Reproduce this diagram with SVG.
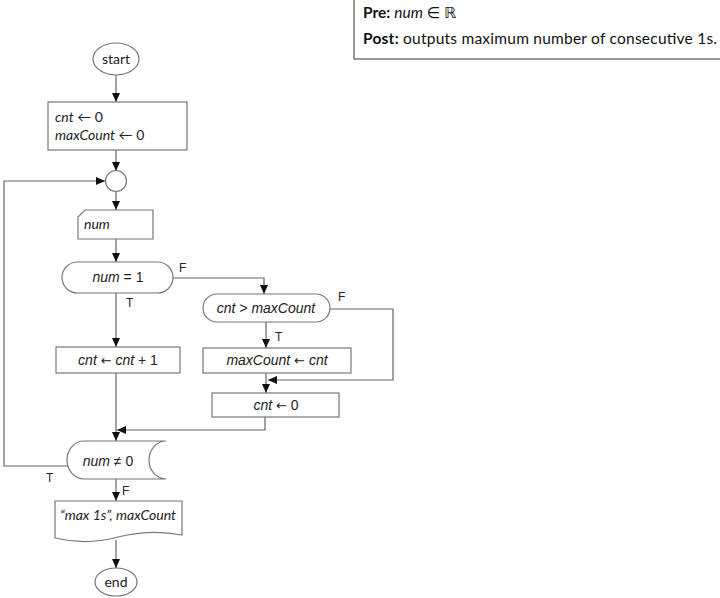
<svg xmlns="http://www.w3.org/2000/svg" width="720" height="598" viewBox="0 0 720 598">
<style>
.shape{fill:#fff;stroke:#777;stroke-width:1.2}
.conn{fill:none;stroke:#666;stroke-width:1.2}
.a{font-family:"Liberation Sans",Arial,sans-serif;font-size:14px;fill:#222}
.c{font-family:Lato,"Open Sans","DejaVu Sans",sans-serif;font-size:14px;fill:#222}
.lbl{font-family:"Liberation Sans",Arial,sans-serif;font-size:12px;fill:#222}
.i{font-style:italic}
.m{text-anchor:middle}
.arr{font-family:"DejaVu Sans",sans-serif;font-style:normal;font-size:13px}
.note{font-family:Lato,"Open Sans","DejaVu Sans",sans-serif;font-size:15.5px;fill:#111}
</style>
<defs>
<marker id="ah" markerUnits="userSpaceOnUse" markerWidth="9" markerHeight="8" refX="9" refY="4" orient="auto">
<path d="M0,0 L9,4 L0,8 z" fill="#111"/>
</marker>
</defs>

<g id="spec">
<rect x="354" y="-2" width="380" height="61" fill="#fff" stroke="#555" stroke-width="1.2"/>
<text class="note" x="363" y="18"><tspan font-weight="bold">Pre:</tspan> <tspan class="i">num</tspan> ∈ <tspan font-family="DejaVu Sans">ℝ</tspan></text>
<text class="note" x="363" y="44" textLength="354" lengthAdjust="spacing"><tspan font-weight="bold">Post:</tspan> outputs maximum number of consecutive 1s.</text>
</g>

<g id="connectors">
<path class="conn" d="M116,74 L116,102" marker-end="url(#ah)"/>
<path class="conn" d="M116,150 L116,171" marker-end="url(#ah)"/>
<path class="conn" d="M116,191 L116,210" marker-end="url(#ah)"/>
<path class="conn" d="M116,239 L116,262" marker-end="url(#ah)"/>
<path class="conn" d="M116,293 L116,347" marker-end="url(#ah)"/>
<path class="conn" d="M173,278 L264,278 L264,294" marker-end="url(#ah)"/>
<path class="conn" d="M266,322 L266,348" marker-end="url(#ah)"/>
<path class="conn" d="M330,309 L393,309 L393,380 L268,380" marker-end="url(#ah)"/>
<path class="conn" d="M266,373 L266,393" marker-end="url(#ah)"/>
<path class="conn" d="M265,417 L265,430 L117,430" marker-end="url(#ah)"/>
<path class="conn" d="M116,373 L116,441" marker-end="url(#ah)"/>
<path class="conn" d="M68,466 L4,466 L4,181 L105,181" marker-end="url(#ah)"/>
<path class="conn" d="M116,479 L116,501" marker-end="url(#ah)"/>
<path class="conn" d="M116,540 L116,568" marker-end="url(#ah)"/>
<text class="lbl" x="179" y="272">F</text>
<text class="lbl" x="338" y="301">F</text>
<text class="lbl" x="126" y="307">T</text>
<text class="lbl" x="275" y="341">T</text>
<text class="lbl" x="46" y="482">T</text>
<text class="lbl" x="122" y="495">F</text>
</g>

<g id="start">
<ellipse class="shape" cx="116" cy="59" rx="23" ry="16"/>
<text class="c m" x="116" y="64">start</text>
</g>

<g id="init">
<rect class="shape" x="48" y="102" width="139" height="48"/>
<text class="c" x="55" y="122"><tspan class="i">cnt</tspan> ← 0</text>
<text class="c" x="55" y="140"><tspan class="i">maxCount</tspan> ← 0</text>
</g>

<g id="merge">
<circle class="shape" cx="116" cy="181" r="10.5"/>
</g>

<g id="input">
<path class="shape" d="M85,210 L153,210 L153,239 L78,239 L78,217 Z"/>
<text class="c i" x="84" y="229">num</text>
</g>

<g id="dec1">
<rect class="shape" x="62" y="262" width="111" height="31" rx="15.5"/>
<text class="a m" x="118" y="282"><tspan class="i">num</tspan> = 1</text>
</g>

<g id="dec2">
<rect class="shape" x="203" y="294" width="127" height="28" rx="14"/>
<text class="a m i" x="266" y="313">cnt &gt; maxCount</text>
</g>

<g id="inc">
<rect class="shape" x="56" y="347" width="124" height="26"/>
<text class="a m" x="118" y="365"><tspan class="i">cnt</tspan> <tspan class="arr">←</tspan> <tspan class="i">cnt</tspan> + 1</text>
</g>

<g id="setmax">
<rect class="shape" x="203" y="348" width="148" height="25"/>
<text class="a m" x="277" y="365"><tspan class="i">maxCount</tspan> <tspan class="arr">←</tspan> <tspan class="i">cnt</tspan></text>
</g>

<g id="reset">
<rect class="shape" x="212" y="393" width="127" height="24"/>
<text class="a m" x="276" y="410"><tspan class="i">cnt</tspan> <tspan class="arr">←</tspan> 0</text>
</g>

<g id="loopcheck">
<path class="shape" d="M84,441 H166 A17,19 0 0 0 166,479 H84 A17,19 0 0 1 84,441 Z"/>
<text class="a m" x="108" y="466"><tspan class="i">num</tspan> ≠ 0</text>
</g>

<g id="output">
<path class="shape" d="M55,501 H182 V535 C162,531 142,531 118,537 C96,543 76,543 55,538 Z"/>
<text class="c m i" x="118" y="520">“max 1s”, maxCount</text>
</g>

<g id="end">
<ellipse class="shape" cx="116" cy="582" rx="21" ry="14"/>
<text class="c m" x="116" y="587">end</text>
</g>
</svg>
